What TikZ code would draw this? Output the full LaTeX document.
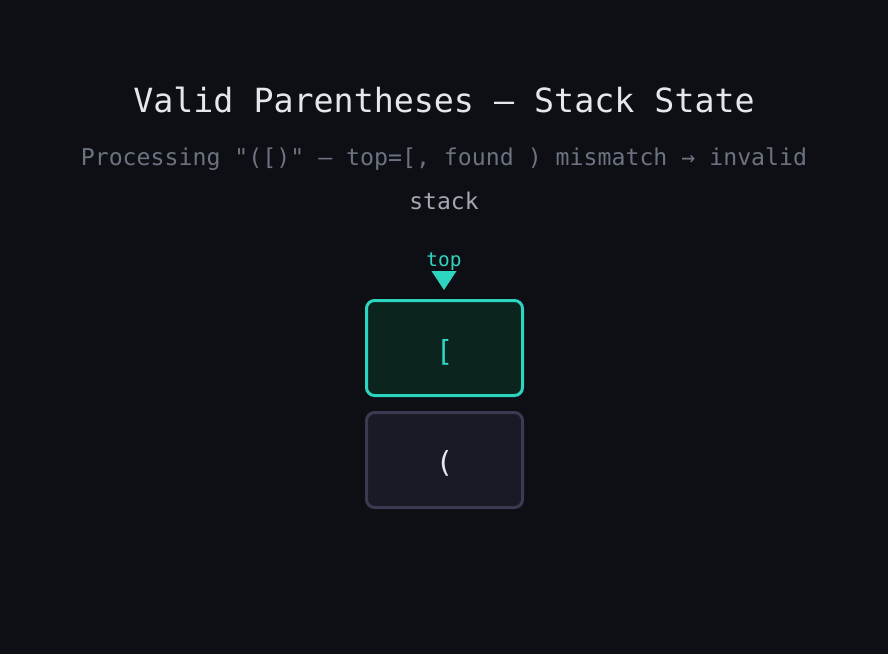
\documentclass[tikz,border=0pt]{standalone}
\usepackage{fontspec}
\setmainfont{DejaVu Sans Mono}[Ligatures=TeXOff]
\definecolor{bg}{HTML}{0E0F14}
\definecolor{titlec}{HTML}{E5E7EB}
\definecolor{subc}{HTML}{6B7280}
\definecolor{stackc}{HTML}{A3A8B4}
\definecolor{teal}{HTML}{2DD4BF}
\definecolor{topfill}{HTML}{0B241E}
\definecolor{cellfill}{HTML}{1A1A26}
\definecolor{celledge}{HTML}{3C3A52}
\definecolor{cellt}{HTML}{E5E7EB}
\begin{document}
\begin{tikzpicture}[x=1pt,y=-1pt,
  cell/.style={rounded corners=8pt, line width=3pt, minimum width=156pt, minimum height=95pt, inner sep=0pt},
  topcell/.style={cell, draw=teal, fill=topfill},
  lowcell/.style={cell, draw=celledge, fill=cellfill},
  txt/.style={inner sep=0pt, anchor=center}]
\fill[bg] (0,0) rectangle (888,654);
\useasboundingbox (0,0) rectangle (888,654);
\node[txt, text=titlec, font=\fontsize{33.3}{33.3}\selectfont] (title) at (444,100) {Valid Parentheses — Stack State};
\node[txt, text=subc, font=\fontsize{23.2}{23.2}\selectfont] (sub) at (444,159) {Processing "([)" — top=[, found ) mismatch → invalid};
\node[txt, text=stackc, font=\fontsize{23}{23}\selectfont] (stack) at (444,201) {stack};
\node[txt, text=teal, font=\fontsize{19.4}{19.4}\selectfont] (toplabel) at (444,262) {top};
\node[topcell] (c1) at (444.5,348) {};
\node[txt, text=teal, font=\fontsize{29}{29}\selectfont] (v1) at (444.5,352) {[};
\node[lowcell] (c0) at (444.5,460) {};
\node[txt, text=cellt, font=\fontsize{29}{29}\selectfont] (v0) at (444.5,463) {(};
\coordinate (tip) at (444,290);
\fill[teal] (tip) -- ++(-12.5,-19) -- ++(25,0) -- cycle;
\end{tikzpicture}
\end{document}
